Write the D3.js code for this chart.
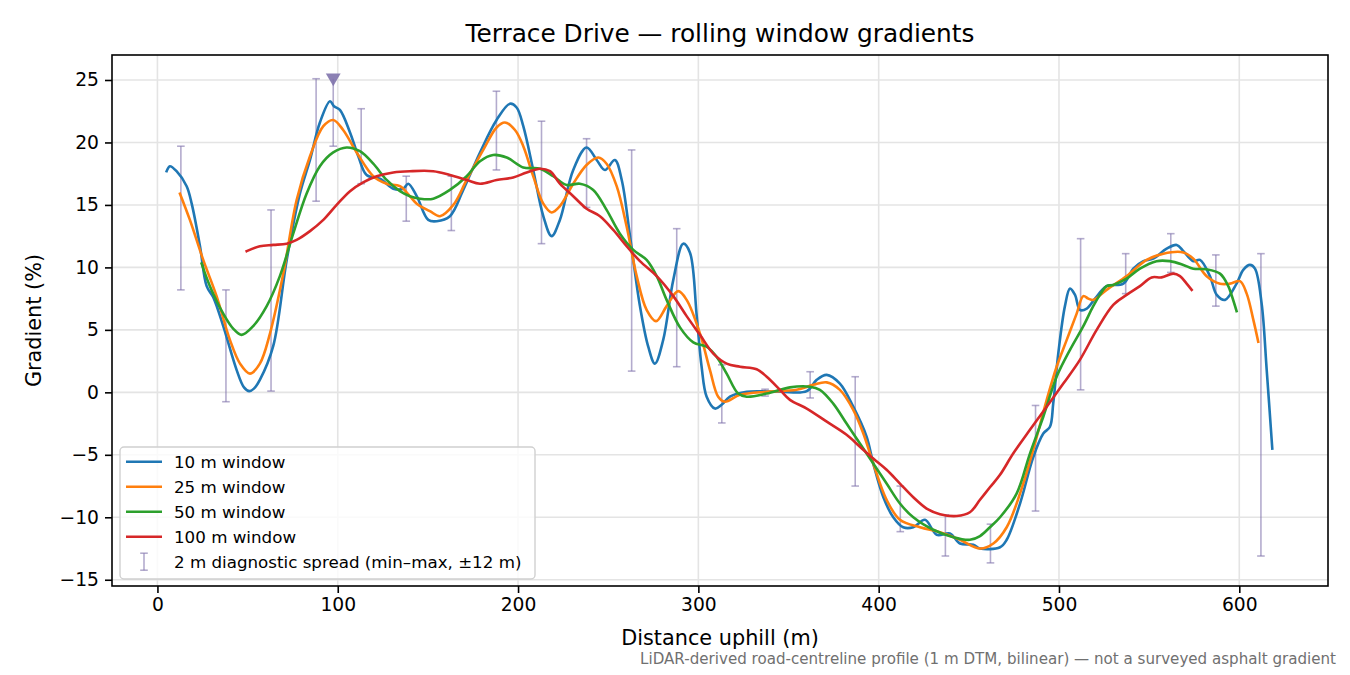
<!DOCTYPE html>
<html>
<head>
<meta charset="utf-8">
<script src="https://cdn.jsdelivr.net/npm/d3@7"></script>
<style>
  body { margin: 0; background: #fff; }
  svg text { font-family: "DejaVu Sans", sans-serif; fill: #000; }
</style>
</head>
<body>
<div class="plot"></div>
<script>
// [distance m, gradient %]
var win10 = [[5.1,17.7],[6.9,18.1],[10.6,17.7],[16.2,16.5],[19,15.1],[23.6,11.7],[27.3,8.5],[31,7.6],[36.5,5.3],[43.9,1.8],[48,0.4],[50.9,0.1],[53.5,0.3],[56.8,1.0],[64.2,3.7],[71.7,10.6],[79,15.9],[84.6,18.6],[90.1,21.6],[95.7,23.3],[97.9,22.9],[101.2,22.6],[106.8,20.8],[111.4,18.9],[116,17.4],[123.4,17.1],[130.8,16.3],[136.3,16.3],[139.1,16.7],[143.8,15.7],[150.2,13.8],[154.9,13.7],[162.2,14.1],[169.6,16.2],[178.9,19.2],[188.1,21.8],[195.5,23.1],[199.2,22.8],[202.9,21.3],[208.4,17.8],[214,14.1],[218.6,12.5],[223.2,13.8],[230.6,17.8],[238,19.6],[243.6,18.6],[248.2,17.8],[253.7,18.6],[257.5,17.0],[262.1,12.5],[267.6,6.9],[272.2,3.65],[275.9,2.3],[280.5,4.2],[286.1,9.0],[291.6,11.9],[295.3,11.2],[299.1,6.1],[301.8,2.05],[304.6,-0.35],[309.2,-1.3],[312.9,-1.0],[317.5,-0.35],[326.8,0.05],[345.3,0.05],[360.1,0.1],[365.6,1.0],[371.2,1.4],[378.5,0.7],[385.9,-1.15],[393.3,-3.55],[397,-5.7],[402.6,-8.4],[408.1,-10],[413.6,-10.8],[419.2,-10.8],[425.7,-10.2],[432.2,-11.4],[439.5,-11.3],[445.1,-12.1],[452.5,-12.2],[456.2,-12.5],[467.3,-12.4],[471,-11.8],[478.4,-8.9],[485.7,-5.2],[491.3,-3.3],[495,-2.75],[496.8,-0.9],[499.6,3.1],[503.3,6.9],[506.1,8.3],[508.9,7.8],[511.6,6.6],[515.4,6.7],[520,7.5],[526.4,8.5],[535.7,8.7],[541.2,9.9],[546.8,10.5],[552.3,10.7],[559.7,11.5],[565.3,11.8],[569,11.3],[574.5,10.5],[578.2,10.6],[583.7,9.3],[587.5,7.8],[592.1,7.4],[598.5,8.7],[602.2,9.8],[605.9,10.2],[608.7,9.9],[612.4,7.1],[615.2,1.8],[618.3,-4.5]]

var win25 = [[12.5,15.9],[18,13.8],[25.4,10.6],[32.8,7.7],[40.2,4.2],[45.8,2.3],[51.3,1.5],[56.8,2.3],[62.4,4.7],[69.8,9.5],[77.2,15.4],[84.6,18.9],[92,21.3],[97.5,21.8],[103,21.0],[110.5,19.2],[119.7,17.3],[127.1,16.7],[134.5,16.5],[140,15.7],[143.8,15.1],[151.1,14.5],[156.7,14.1],[164.1,15.0],[171.5,17.0],[180.7,19.4],[188.1,21.2],[192.7,21.6],[198.3,21.0],[202.9,19.7],[208.4,17.3],[214,15.1],[218.6,14.4],[223.2,14.9],[230.6,16.7],[238,18.2],[244.5,18.8],[249.1,18.3],[254.7,16.5],[260.2,13.3],[265.8,9.3],[271.3,6.6],[276.5,5.7],[282.4,6.9],[288.8,8.1],[293.5,7.4],[300.9,4.7],[306.4,1.8],[311,-0.35],[314.7,-0.75],[323.1,-0.2],[337.9,0.05],[354.5,0.2],[363.7,0.6],[371.2,0.8],[378.5,0.2],[385.9,-1.4],[391.5,-3.3],[397,-5.7],[404.4,-8.6],[411.8,-10.2],[422.9,-10.8],[434,-11.2],[445.1,-11.8],[456.2,-12.5],[463.6,-12.1],[471,-10.8],[478.4,-8.1],[485.7,-4.6],[493.2,-0.6],[498.7,2.05],[504.3,4.2],[509.8,6.3],[513.5,7.7],[516.3,7.5],[519,7.4],[526.4,8.2],[537.5,9.3],[548.6,10.6],[557.9,11.1],[569,11.2],[574.5,10.7],[581.9,9.3],[589.3,8.7],[594.8,8.7],[600.4,8.9],[604.1,7.9],[607.8,5.8],[610.5,4.05]]

var win50 = [[24.5,10.3],[29.1,8.5],[36.5,6.3],[42,5.1],[46.7,4.6],[53.1,5.3],[60.6,6.9],[67.9,9.3],[75.3,12.7],[82.7,15.9],[90.1,18.1],[97.5,19.2],[104.9,19.6],[112.3,19.3],[119.7,18.3],[127.1,17.0],[134.5,16.1],[140,15.7],[145.6,15.5],[153,15.5],[162.2,16.2],[171.5,17.3],[178.9,18.5],[186.2,19.0],[193.7,18.8],[202.9,18.0],[212.2,17.9],[219.5,17.3],[226.9,16.6],[234.3,16.7],[241.7,16.2],[249.1,14.6],[256.5,12.7],[263.9,11.4],[271.3,10.6],[276.9,9.3],[282.4,7.4],[289.8,5.2],[297.2,4.0],[304.6,3.65],[310.1,2.85],[315.7,1.5],[322.1,-0.1],[326.8,-0.35],[337.9,-0.1],[350.8,0.4],[361.9,0.45],[367.4,0.2],[374.8,-0.9],[382.2,-2.5],[389.6,-4.1],[397,-5.7],[404.4,-7.3],[411.8,-8.9],[419.2,-10.0],[430.3,-11.0],[441.4,-11.6],[450.6,-11.8],[456.2,-11.5],[461.7,-10.8],[467.3,-10.0],[476.5,-8.1],[483.9,-4.9],[491.3,-1.95],[498.7,1.25],[506.1,3.4],[513.5,5.3],[519,6.9],[522.7,7.8],[526.4,8.5],[530.1,8.6],[537.5,9.1],[544.9,9.9],[554.1,10.5],[561.5,10.5],[569,10.2],[574.5,9.9],[581.9,9.85],[589.3,9.5],[593.9,8.5],[598.5,6.5]]

var win100 = [[49.5,11.3],[56.8,11.7],[64.2,11.8],[71.7,11.9],[77.2,12.2],[84.6,12.9],[92,13.8],[99.4,15.0],[106.8,16.1],[114.1,16.8],[121.6,17.3],[130.8,17.6],[140,17.7],[153,17.7],[162.2,17.4],[171.5,17.0],[178.9,16.7],[188.1,17.0],[197.3,17.2],[204.8,17.6],[212.2,17.9],[217.7,17.7],[223.2,16.7],[230.6,15.7],[238,14.7],[245.4,14.1],[252.8,13.0],[260.2,11.7],[267.6,10.5],[276.9,9.3],[286.1,7.7],[293.5,6.1],[300.9,4.6],[308.3,3.1],[315.7,2.3],[323.1,2.05],[332.3,1.85],[337.9,1.25],[345.3,0.2],[350.8,-0.6],[360.1,-1.3],[371.2,-2.35],[382.2,-3.4],[389.6,-4.35],[397,-5.3],[404.4,-6.2],[411.8,-7.3],[419.2,-8.4],[426.6,-9.3],[434,-9.75],[443.3,-9.9],[450.6,-9.6],[456.2,-8.6],[461.7,-7.6],[467.3,-6.6],[474.6,-4.9],[483.9,-3.0],[493.2,-1.15],[502.4,0.7],[511.6,2.6],[520.9,5.0],[530.1,7.0],[537.5,7.8],[544.9,8.5],[551.4,9.2],[556.9,9.2],[563.4,9.5],[567.1,9.3],[570.8,8.7],[573.6,8.2]]

// 2 m diagnostic spread (min / max over +-12 m)
var spreadX  = [13,38,63,88,113,138,163,188,213,238,263,288,313,337,362,387,412,437,462,487,512,537,562,587,612]
var spreadLo = [8.2,-0.75,0.1,15.3,16.7,13.7,12.95,17.8,11.9,14.8,1.7,2.05,-2.45,-0.3,-0.45,-7.5,-11.15,-13.1,-13.65,-9.5,0.2,7.9,9.6,6.9,-13.1]
var spreadHi = [19.7,8.2,14.6,25.1,22.7,17.3,17.3,24.1,21.7,20.3,19.4,13.1,2.2,0.25,1.65,1.25,-7.5,-9.8,-10.55,-1.05,12.3,11.1,12.7,11.0,11.1]

// clipped spread at the steepest point
var peakX = [97.5]
var peakLo = [19.7]
var peakHi = [25.1]

var xTicks = [0,100,200,300,400,500,600]
var yTicks = [-15,-10,-5,0,5,10,15,20,25]

var series = [
  {label: "10 m window",  color: "#1f77b4", data: win10},
  {label: "25 m window",  color: "#ff7f0e", data: win25},
  {label: "50 m window",  color: "#2ca02c", data: win50},
  {label: "100 m window", color: "#d62728", data: win100}
]
var spreadColor = "#8073ac"

var W = 1350, H = 675
var plotL = 112, plotT = 55, plotR = 1328, plotB = 586

var x = d3.scaleLinear().domain([-25.2, 649.2]).range([plotL, plotR])
var y = d3.scaleLinear().domain([-15.5, 27.0]).range([plotB, plotT])

var svg = d3.select(".plot")
            .append("svg")
              .attr("width", W)
              .attr("height", H)

svg.append("defs").append("clipPath")
    .attr("id", "clip")
    .append("rect")
      .attr("x", plotL).attr("y", plotT)
      .attr("width", plotR - plotL).attr("height", plotB - plotT)

// grid
svg.append("g").selectAll("line")
    .data(xTicks).enter().append("line")
      .attr("x1", d => x(d)).attr("x2", d => x(d))
      .attr("y1", plotT).attr("y2", plotB)
      .attr("stroke", "#e4e4e4").attr("stroke-width", 1.6)
svg.append("g").selectAll("line")
    .data(yTicks).enter().append("line")
      .attr("x1", plotL).attr("x2", plotR)
      .attr("y1", d => y(d)).attr("y2", d => y(d))
      .attr("stroke", "#e4e4e4").attr("stroke-width", 1.6)

var fmt = d => d < 0 ? "\u2212" + Math.abs(d) : String(d)

var xAxis = svg.append("g")
    .attr("transform", "translate(0," + plotB + ")")
    .call(d3.axisBottom(x).tickValues(xTicks).tickFormat(fmt).tickSizeOuter(0).tickSize(7).tickPadding(5))
var yAxis = svg.append("g")
    .attr("transform", "translate(" + plotL + ",0)")
    .call(d3.axisLeft(y).tickValues(yTicks).tickFormat(fmt).tickSizeOuter(0).tickSize(7).tickPadding(6))

;[xAxis, yAxis].forEach(function(a) {
  a.select(".domain").remove()
  a.selectAll(".tick line").attr("stroke", "#000").attr("stroke-width", 1.6)
  a.selectAll(".tick text").attr("font-size", 18.7).attr("font-family", "DejaVu Sans").attr("fill", "#000")
})

// spread bars
var plotG = svg.append("g").attr("clip-path", "url(#clip)")

function drawBars(g, xs, lo, hi, capBottomOnly) {
  var idx = d3.range(xs.length)
  var bars = g.append("g")
      .attr("stroke", spreadColor)
      .attr("stroke-opacity", 0.6)
      .attr("stroke-width", 1.6)
  bars.selectAll(".stem").data(idx).enter().append("line")
      .attr("x1", i => x(xs[i])).attr("x2", i => x(xs[i]))
      .attr("y1", i => y(lo[i])).attr("y2", i => y(hi[i]))
  bars.selectAll(".capLo").data(idx).enter().append("line")
      .attr("x1", i => x(xs[i]) - 3.8).attr("x2", i => x(xs[i]) + 3.8)
      .attr("y1", i => y(lo[i])).attr("y2", i => y(lo[i]))
  if (!capBottomOnly) {
    bars.selectAll(".capHi").data(idx).enter().append("line")
        .attr("x1", i => x(xs[i]) - 3.8).attr("x2", i => x(xs[i]) + 3.8)
        .attr("y1", i => y(hi[i])).attr("y2", i => y(hi[i]))
  }
}
drawBars(plotG, spreadX, spreadLo, spreadHi, false)
drawBars(plotG, peakX, peakLo, peakHi, true)

var line = d3.line()
    .x(d => x(d[0]))
    .y(d => y(d[1]))
    .curve(d3.curveCatmullRom.alpha(0.5))

plotG.selectAll(".series")
    .data(series)
    .enter()
    .append("path")
      .attr("d", d => line(d.data))
      .attr("fill", "none")
      .attr("stroke", d => d.color)
      .attr("stroke-width", 2.6)
      .attr("stroke-linejoin", "round")
      .attr("stroke-linecap", "square")

// clipped marker
svg.selectAll(".peak")
    .data(peakX)
    .enter()
    .append("path")
      .attr("d", d3.symbol().type(d3.symbolTriangle).size(95))
      .attr("transform", (d, i) => "translate(" + x(d) + "," + (y(peakHi[i]) - 1) + ") rotate(180)")
      .attr("fill", spreadColor)
      .attr("fill-opacity", 0.9)

// frame
svg.append("rect")
    .attr("x", plotL).attr("y", plotT)
    .attr("width", plotR - plotL).attr("height", plotB - plotT)
    .attr("fill", "none").attr("stroke", "#000").attr("stroke-width", 1.6)

// legend
var lg = svg.append("g")
lg.append("rect")
    .attr("x", 120).attr("y", 447).attr("width", 415).attr("height", 132)
    .attr("rx", 4)
    .attr("fill", "#fff").attr("fill-opacity", 0.8)
    .attr("stroke", "#d0d0d0").attr("stroke-width", 1.4)

var rowY = d3.scaleLinear().domain([0, 1]).range([461.7, 486.7])
series.forEach(function(s, i) {
  lg.append("line")
      .attr("x1", 126).attr("x2", 162)
      .attr("y1", rowY(i)).attr("y2", rowY(i))
      .attr("stroke", s.color).attr("stroke-width", 2.6)
  lg.append("text")
      .attr("x", 174).attr("y", rowY(i)).attr("dy", "0.36em")
      .attr("font-size", 16.7)
      .text(s.label)
})
var ey = rowY(4)
lg.append("g")
    .attr("stroke", spreadColor).attr("stroke-opacity", 0.6).attr("stroke-width", 1.6)
    .selectAll("line")
    .data([[144, ey - 8.5, 144, ey + 8.5], [140.2, ey - 8.5, 147.8, ey - 8.5], [140.2, ey + 8.5, 147.8, ey + 8.5]])
    .enter().append("line")
      .attr("x1", d => d[0]).attr("y1", d => d[1]).attr("x2", d => d[2]).attr("y2", d => d[3])
lg.append("text")
    .attr("x", 174).attr("y", ey).attr("dy", "0.36em")
    .attr("font-size", 16.7)
    .text("2 m diagnostic spread (min\u2013max, \u00b112 m)")

// titles
svg.append("text")
    .attr("x", (plotL + plotR) / 2).attr("y", 42)
    .attr("text-anchor", "middle").attr("font-size", 24.8)
    .text("Terrace Drive \u2014 rolling window gradients")
svg.append("text")
    .attr("x", (plotL + plotR) / 2).attr("y", 645)
    .attr("text-anchor", "middle").attr("font-size", 20.8)
    .text("Distance uphill (m)")
svg.append("text")
    .attr("transform", "translate(41," + (plotT + plotB) / 2 + ") rotate(-90)")
    .attr("text-anchor", "middle").attr("font-size", 20.8)
    .text("Gradient (%)")
svg.append("text")
    .attr("x", 1336).attr("y", 664)
    .attr("text-anchor", "end").attr("font-size", 15.1)
    .style("fill", "#707070")
    .text("LiDAR-derived road-centreline profile (1 m DTM, bilinear) \u2014 not a surveyed asphalt gradient")
</script>
</body>
</html>
